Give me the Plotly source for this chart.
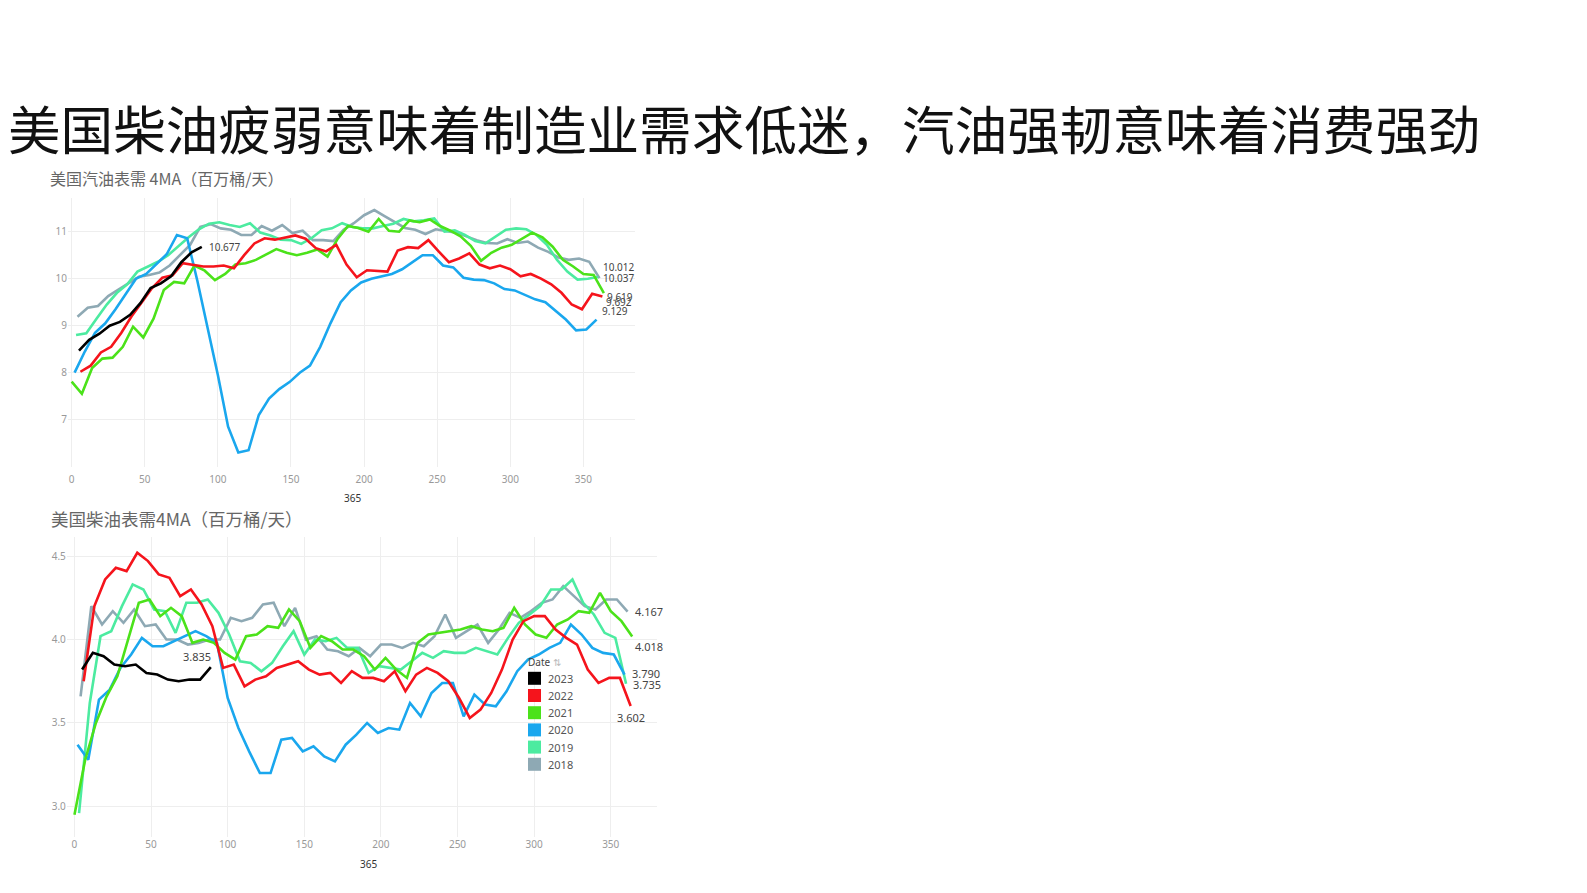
import plotly.graph_objects as go

# weekly US product supplied, 4-week moving average (million barrels/day)
YEARS = ["2023", "2022", "2021", "2020", "2019", "2018"]
COLORS = {
    "2023": "#000000",
    "2022": "#f5141c",
    "2021": "#4be21a",
    "2020": "#1aa7ee",
    "2019": "#4ceba0",
    "2018": "#8ea9b4",
}
# day of year of the first weekly reading in each year
FIRST_DAY = {"2023": 5, "2022": 6, "2021": 0, "2020": 2, "2019": 3, "2018": 4}

# gasoline
GAS_2018 = [9.19, 9.38, 9.42, 9.63, 9.77, 9.90, 10.04, 10.08, 10.13, 10.28, 10.50, 10.72, 11.10,
            11.16, 11.07, 11.04, 10.93, 10.93, 11.12, 11.02, 11.14, 10.97, 11.02, 10.82, 10.82, 10.80,
            11.04, 11.18, 11.35, 11.46, 11.33, 11.20, 11.08, 11.04, 10.95, 11.05, 11.02, 10.98, 10.90,
            10.82, 10.76, 10.75, 10.84, 10.76, 10.79, 10.66, 10.57, 10.45, 10.40, 10.43, 10.36, 10.012]
GAS_2019 = [8.80, 8.84, 9.15, 9.45, 9.70, 9.88, 10.15, 10.26, 10.36, 10.50, 10.70, 10.88, 11.05,
            11.17, 11.20, 11.14, 11.10, 11.18, 10.98, 10.92, 10.83, 10.82, 10.74, 10.86, 11.03, 11.07,
            11.18, 11.10, 11.07, 11.07, 11.12, 11.17, 11.27, 11.22, 11.24, 11.28, 11.00, 11.03, 10.93,
            10.80, 10.75, 10.90, 11.04, 11.07, 11.05, 10.93, 10.72, 10.40, 10.15, 9.98, 10.00, 10.037]
GAS_2020 = [8.00, 8.45, 8.85, 9.05, 9.35, 9.68, 10.00, 10.10, 10.30, 10.52, 10.93, 10.86, 9.95,
            8.95, 7.95, 6.85, 6.30, 6.35, 7.10, 7.45, 7.65, 7.80, 8.00, 8.15, 8.55, 9.05,
            9.50, 9.75, 9.92, 10.00, 10.05, 10.10, 10.20, 10.35, 10.50, 10.50, 10.28, 10.24, 10.02,
            9.98, 9.97, 9.90, 9.78, 9.75, 9.65, 9.56, 9.50, 9.32, 9.13, 8.90, 8.92, 9.129]
GAS_2021 = [7.81, 7.55, 8.10, 8.30, 8.32, 8.55, 8.98, 8.75, 9.15, 9.76, 9.93, 9.90, 10.28,
            10.17, 9.97, 10.10, 10.30, 10.33, 10.40, 10.52, 10.63, 10.55, 10.50, 10.55, 10.62, 10.47,
            10.85, 11.12, 11.08, 11.00, 11.27, 11.02, 11.00, 11.24, 11.20, 11.26, 11.12, 11.02, 10.90,
            10.70, 10.38, 10.55, 10.66, 10.72, 10.85, 10.98, 10.88, 10.68, 10.40, 10.26, 10.10, 10.08,
            9.692]
GAS_2022 = [8.02, 8.15, 8.43, 8.55, 8.85, 9.20, 9.50, 9.80, 10.02, 10.07, 10.33, 10.29, 10.26,
            10.26, 10.28, 10.22, 10.50, 10.75, 10.86, 10.83, 10.88, 10.92, 10.85, 10.65, 10.58, 10.72,
            10.30, 10.03, 10.18, 10.17, 10.15, 10.60, 10.67, 10.65, 10.82, 10.58, 10.35, 10.43, 10.54,
            10.30, 10.22, 10.28, 10.20, 10.05, 10.10, 10.00, 9.88, 9.70, 9.45, 9.35, 9.68, 9.619]
GAS_2023 = [8.47, 8.70, 8.83, 9.00, 9.08, 9.23, 9.48, 9.80, 9.90, 10.05, 10.35, 10.56, 10.677]

# diesel
DSL_2018 = [3.66, 4.20, 4.09, 4.17, 4.10, 4.18, 4.08, 4.09, 4.00, 4.00, 3.97, 3.98, 4.00,
            4.00, 4.13, 4.11, 4.13, 4.21, 4.22, 4.08, 4.19, 4.00, 4.02, 3.94, 3.93, 3.90,
            3.95, 3.90, 3.97, 3.97, 3.95, 3.98, 3.96, 4.02, 4.15, 4.01, 4.05, 4.09, 3.98,
            4.06, 4.16, 4.13, 4.17, 4.22, 4.24, 4.32, 4.26, 4.20, 4.18, 4.24, 4.24, 4.167]
DSL_2019 = [2.96, 3.62, 4.02, 4.05, 4.20, 4.33, 4.30, 4.18, 4.17, 4.04, 4.22, 4.22, 4.24,
            4.16, 4.03, 3.87, 3.86, 3.81, 3.86, 3.96, 4.05, 3.91, 4.00, 3.99, 4.01, 3.95,
            3.95, 3.80, 3.84, 3.83, 3.82, 3.87, 3.92, 3.89, 3.93, 3.92, 3.92, 3.95, 3.93,
            3.91, 4.01, 4.10, 4.15, 4.20, 4.30, 4.30, 4.36, 4.22, 4.15, 4.04, 4.01, 3.735]
DSL_2020 = [3.37, 3.28, 3.64, 3.70, 3.83, 3.91, 4.01, 3.96, 3.96, 3.99, 4.02, 4.05, 4.02,
            3.98, 3.65, 3.47, 3.33, 3.20, 3.20, 3.40, 3.41, 3.33, 3.36, 3.30, 3.27, 3.37,
            3.43, 3.50, 3.44, 3.47, 3.46, 3.62, 3.54, 3.68, 3.74, 3.74, 3.54, 3.67, 3.61,
            3.60, 3.69, 3.81, 3.88, 3.91, 3.95, 3.98, 4.09, 4.03, 3.95, 3.92, 3.91, 3.79]
DSL_2021 = [2.95, 3.28, 3.50, 3.66, 3.78, 4.00, 4.22, 4.24, 4.14, 4.19, 4.14, 3.98, 4.00,
            3.98, 3.92, 3.88, 4.02, 4.03, 4.08, 4.07, 4.18, 4.11, 3.95, 4.02, 3.99, 3.94,
            3.94, 3.90, 3.82, 3.89, 3.82, 3.77, 3.98, 4.03, 4.04, 4.05, 4.06, 4.08, 4.06,
            4.05, 4.07, 4.19, 4.09, 4.03, 4.01, 4.09, 4.12, 4.17, 4.16, 4.28, 4.17, 4.11, 4.018]
DSL_2022 = [3.75, 4.20, 4.36, 4.43, 4.41, 4.52, 4.47, 4.39, 4.37, 4.26, 4.30, 4.21, 4.08,
            3.83, 3.85, 3.72, 3.76, 3.78, 3.83, 3.85, 3.87, 3.82, 3.79, 3.80, 3.74, 3.81,
            3.77, 3.77, 3.75, 3.81, 3.69, 3.79, 3.83, 3.80, 3.75, 3.65, 3.53, 3.58, 3.68,
            3.82, 4.00, 4.11, 4.14, 4.14, 4.06, 4.01, 3.97, 3.82, 3.74, 3.77, 3.77, 3.602]
DSL_2023 = [3.82, 3.92, 3.90, 3.85, 3.84, 3.85, 3.80, 3.79, 3.76, 3.75, 3.76, 3.76, 3.835]

GAS = {"2018": GAS_2018, "2019": GAS_2019, "2020": GAS_2020,
       "2021": GAS_2021, "2022": GAS_2022, "2023": GAS_2023}
DSL = {"2018": DSL_2018, "2019": DSL_2019, "2020": DSL_2020,
       "2021": DSL_2021, "2022": DSL_2022, "2023": DSL_2023}

# end-of-line label offsets in px (xanchor, xshift, yshift)
GAS_LABELS = {"2023": ("left", 5, 0), "2018": ("left", 2, 11), "2019": ("left", 3, -1),
              "2022": ("left", 3, 0), "2021": ("left", 0, -9), "2020": ("left", 3, 9)}
DSL_LABELS = {"2023": ("center", -14, 11), "2018": ("left", 5, 0), "2021": ("left", 1, -10),
              "2020": ("left", 5, 1), "2019": ("left", 5, -1), "2022": ("center", 0, -12)}

TITLE = "美国柴油疲弱意味着制造业需求低迷，汽油强韧意味着消费强劲"
SUB_GAS = "美国汽油表需 4MA（百万桶/天）"
SUB_DSL = "美国柴油表需4MA（百万桶/天）"
LEGEND_TITLE = "Date <span style='color:#bbb'>⇅</span>"

W, H = 1587, 893
CJK = "Noto Sans CJK SC"
NUM = "Noto Sans"


def days(year, n):
    return [FIRST_DAY[year] + 7 * i for i in range(n)]


def px(x, y):
    # pixel position -> paper coords
    return x / W, 1 - y / H


fig = go.Figure()
annotations = []
shapes = []

for data, xa, ya, labels, size in [(GAS, "x", "y", GAS_LABELS, 10), (DSL, "x2", "y2", DSL_LABELS, 11)]:
    for yr in reversed(YEARS):  # 2023 drawn last, on top
        vals = data[yr]
        xs = days(yr, len(vals))
        fig.add_trace(go.Scatter(
            x=xs, y=vals, mode="lines", xaxis=xa, yaxis=ya, name=yr,
            line=dict(color=COLORS[yr], width=2.6), showlegend=False, hoverinfo="x+y",
        ))
        anchor, dx, dy = labels[yr]
        annotations.append(dict(
            x=xs[-1], y=vals[-1], xref=xa, yref=ya, text=f"{vals[-1]:.3f}",
            showarrow=False, xanchor=anchor, yanchor="middle", xshift=dx, yshift=dy,
            font=dict(family=NUM, size=size, color="#444"),
        ))

# colour legend (drawn by hand to match the tight row spacing)
lx, ly = px(525.7, 661.7)
annotations.append(dict(x=lx, y=ly, xref="paper", yref="paper", text=LEGEND_TITLE, showarrow=False,
                        xanchor="left", yanchor="middle", font=dict(family=NUM, size=10, color="#444")))
for i, yr in enumerate(YEARS):
    cy = 678.3 + 17.2 * i
    x0, y0 = px(528, cy + 6.5)
    x1, y1 = px(541, cy - 6.5)
    shapes.append(dict(type="rect", xref="paper", yref="paper", x0=x0, x1=x1, y0=y0, y1=y1,
                       fillcolor=COLORS[yr], line=dict(width=0)))
    tx, ty = px(545.5, cy)
    annotations.append(dict(x=tx, y=ty, xref="paper", yref="paper", text=yr, showarrow=False,
                            xanchor="left", yanchor="middle",
                            font=dict(family=NUM, size=11, color="#555")))

tx, ty = px(6, 127)
annotations.append(dict(x=tx, y=ty, xref="paper", yref="paper", text=TITLE, showarrow=False,
                        xanchor="left", yanchor="middle", font=dict(family=CJK, size=52.6, color="#111")))
tx, ty = px(48, 178.3)
annotations.append(dict(x=tx, y=ty, xref="paper", yref="paper", text=SUB_GAS, showarrow=False,
                        xanchor="left", yanchor="middle", font=dict(family=CJK, size=16, color="#666")))
tx, ty = px(49, 518.3)
annotations.append(dict(x=tx, y=ty, xref="paper", yref="paper", text=SUB_DSL, showarrow=False,
                        xanchor="left", yanchor="middle", font=dict(family=CJK, size=17.5, color="#666")))
annotations.append(dict(x=192, y=px(0, 497.5)[1], xref="x", yref="paper", text="365", showarrow=False,
                        yanchor="middle", font=dict(family=NUM, size=10, color="#333")))
annotations.append(dict(x=192, y=px(0, 864)[1], xref="x2", yref="paper", text="365", showarrow=False,
                        yanchor="middle", font=dict(family=NUM, size=10, color="#333")))

axis_common = dict(showgrid=True, gridcolor="#eeeeee", gridwidth=1, zeroline=False,
                   showline=False, tickfont=dict(family=NUM, size=10, color="#999"))

fig.update_layout(
    width=W, height=H,
    margin=dict(l=0, r=0, t=0, b=0),
    paper_bgcolor="white", plot_bgcolor="white",
    showlegend=False,
    annotations=annotations,
    shapes=shapes,
    xaxis=dict(domain=[68 / W, 635 / W], range=[-2.5, 385.3], anchor="y", tick0=0, dtick=50,
               ticks="outside", ticklen=3, tickcolor="rgba(0,0,0,0)", **axis_common),
    yaxis=dict(domain=[1 - 466.7 / H, 1 - 198.3 / H], range=[6.0, 11.71], anchor="x",
               tickvals=[7, 8, 9, 10, 11], ticks="", **axis_common),
    xaxis2=dict(domain=[66.8 / W, 656.7 / W], range=[-5, 380], anchor="y2",
                tick0=0, dtick=50, ticks="", **axis_common),
    yaxis2=dict(domain=[1 - 837 / H, 1 - 536.7 / H], range=[2.817, 4.616], anchor="x2",
                tickvals=[3.0, 3.5, 4.0, 4.5], tickformat=".1f", ticks="", **axis_common),
)

fig.write_html(
    "out.html",
    config={"displayModeBar": False},
    post_script="document.body.style.margin='0';document.body.style.overflow='hidden';",
)
